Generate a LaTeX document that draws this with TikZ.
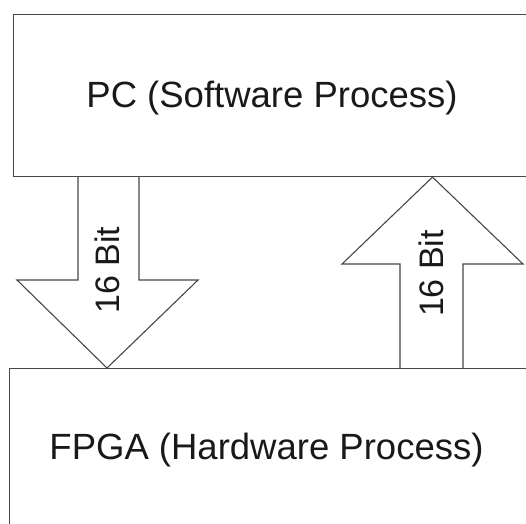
\documentclass[tikz,border=0pt]{standalone}
\usepackage{fontspec}
\setmainfont{Liberation Sans}
\begin{document}
\begin{tikzpicture}[x=1pt,y=-1pt,line join=miter,
  box/.style={draw=black!72,line width=1.1pt,fill=white,inner sep=0pt,anchor=north west},
  bus/.style={draw=black!72,line width=1.1pt},
  title/.style={font=\fontsize{36.5}{40}\selectfont,text=black!90,anchor=base},
  width/.style={font=\fontsize{34}{38}\selectfont,text=black!90,rotate=90}]
\useasboundingbox (0,0) rectangle (526,523);
\clip (0,0) rectangle (526,523);

% the two process blocks (their right sides run off the page edge)
\node[box,minimum width=514pt,minimum height=162pt] (pc) at (12.5,14) {};
\node[box,minimum width=517.5pt,minimum height=170pt] (fpga) at (9,368) {};
\node[title] (pctext) at (272,107) {PC (Software Process)};
\node[title] (fpgatext) at (266.5,459) {FPGA (Hardware Process)};

% 16-bit bus from PC down to FPGA
\draw[bus] (78,0 |- pc.south) -- (78,280) -- (17,280) -- (107,0 |- fpga.north)
  -- (198,280) -- (139,280) -- (139,0 |- pc.south);
\node[width] (down) at (107,270) {16 Bit};

% 16-bit bus from FPGA up to PC
\draw[bus] (400,0 |- fpga.north) -- (400,264) -- (342,264) -- (432.5,0 |- pc.south)
  -- (523,264) -- (463,264) -- (463,0 |- fpga.north);
\node[width] (up) at (431,273.5) {16 Bit};
\end{tikzpicture}
\end{document}
